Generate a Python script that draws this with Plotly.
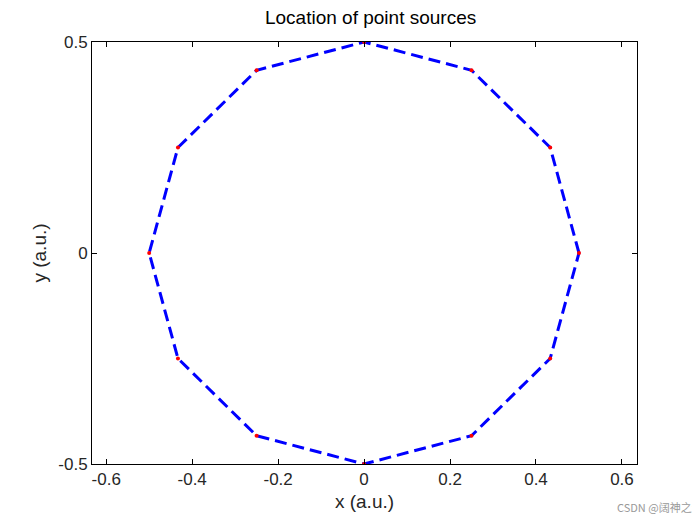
import plotly.graph_objects as go

# point source locations (12 sources on a circle of radius 0.5)
src_x = [0.5, 0.433, 0.25, 0.0, -0.25, -0.433, -0.5, -0.433, -0.25, 0.0, 0.25, 0.433, 0.5]
src_y = [0.0, 0.25, 0.433, 0.5, 0.433, 0.25, 0.0, -0.25, -0.433, -0.5, -0.433, -0.25, 0.0]

x_ticks = [-0.6, -0.4, -0.2, 0, 0.2, 0.4, 0.6]
x_labels = ['-0.6', '-0.4', '-0.2', '0', '0.2', '0.4', '0.6']
y_ticks = [-0.5, 0, 0.5]
y_labels = ['-0.5', '0', '0.5']

fig = go.Figure()
fig.add_trace(go.Scatter(x=src_x, y=src_y, mode='lines',
                         line=dict(color='#0000ff', width=3, dash='12px,6px')))
fig.add_trace(go.Scatter(x=src_x[:-1], y=src_y[:-1], mode='markers',
                         marker=dict(color='red', size=4)))

axis = dict(showgrid=False, zeroline=False, mirror='ticks', showline=True,
            linecolor='black', linewidth=1, ticks='inside', ticklen=5,
            tickcolor='black', tickfont=dict(size=17, color='#262626'))
fig.update_xaxes(range=[-0.633, 0.635], tickvals=x_ticks, ticktext=x_labels,
                 title=dict(text='x (a.u.)', font=dict(size=19, color='#262626'), standoff=6), **axis)
fig.update_yaxes(range=[-0.5, 0.5], tickvals=y_ticks, ticktext=y_labels,
                 title=dict(text='y (a.u.)', font=dict(size=19, color='#262626'), standoff=6), **axis)

fig.update_layout(
    width=700, height=525, showlegend=False,
    font=dict(family='Arial, Liberation Sans, sans-serif'),
    paper_bgcolor='white', plot_bgcolor='white',
    margin=dict(l=84, r=71, t=34, b=69),
    title=dict(text='Location of point sources', x=0.518, xanchor='center',
               y=0.995, yanchor='top', font=dict(size=19, color='black')),
)
fig.add_annotation(text='CSDN @阔神之光', xref='paper', yref='paper', x=1.125, y=-0.125,
                   showarrow=False, xanchor='right',
                   font=dict(size=11, color='#999999', family='Noto Sans CJK SC'))

fig.write_html("out.html")
